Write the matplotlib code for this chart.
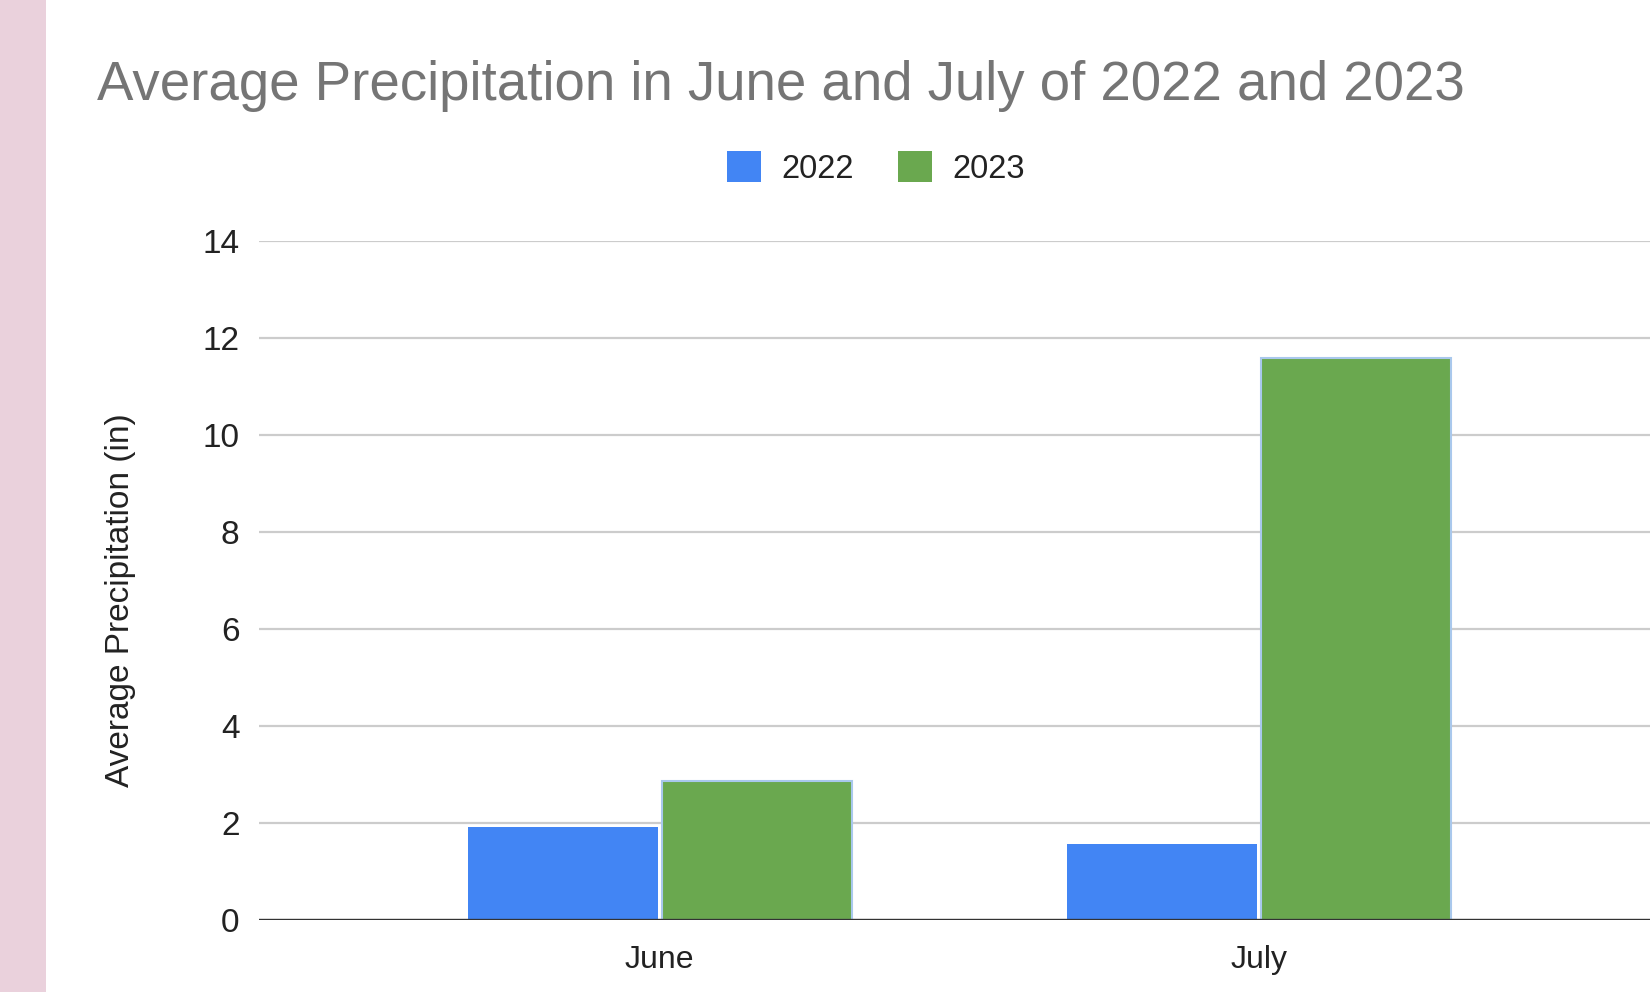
import matplotlib
matplotlib.use("Agg")
import matplotlib.pyplot as plt
from matplotlib.patches import Rectangle, Patch
import numpy as np

months = ["June", "July"]
precip_2022 = [1.92, 1.57]
precip_2023 = [2.87, 11.59]
series_labels = ["2022", "2023"]
yticks = [0, 2, 4, 6, 8, 10, 12, 14]

plt.rcParams['font.family'] = ['Liberation Sans', 'DejaVu Sans']

W, H = 1650, 992
fig = plt.figure(figsize=(W / 100, H / 100), dpi=100)
fig.patch.set_facecolor('white')

# pink strip on left
fig.add_artist(Rectangle((0, 0), 46 / W, 1, transform=fig.transFigure,
                         facecolor='#ead1dc', edgecolor='none', zorder=0))

left, right = 259 / W, 1.0
bottom, top = 1 - 920 / H, 1 - 241 / H
ax = fig.add_axes([left, bottom, right - left, top - bottom])

x = np.arange(len(months))
bw = 0.317
off = 0.162
c22, c23 = '#4285f4', '#6aa84f'
ax.bar(x - off, precip_2022, width=bw, color=c22, edgecolor='none', zorder=3)
ax.bar(x + off, precip_2023, width=bw, color=c23, edgecolor='#a9c8ec',
       linewidth=1.5, zorder=3)

ax.set_xlim(-0.669, 1.653)
ax.set_ylim(0, 14)
ax.set_yticks(yticks)
ax.set_yticklabels([str(v) for v in yticks])
ax.set_xticks(x)
ax.set_xticklabels(months)
ax.tick_params(axis='y', length=0, pad=14, labelsize=24, labelcolor='#222222')
ax.tick_params(axis='x', length=0, pad=18, labelsize=23, labelcolor='#222222')

for s in ax.spines.values():
    s.set_visible(False)
ax.grid(axis='y', color='#cccccc', linewidth=1.6, zorder=1)
ax.grid(axis='x', visible=False)
ax.axhline(0, color='#333333', linewidth=2.4, zorder=4)

fig.text(97 / W, 1 - 100 / H, "Average Precipitation in June and July of 2022 and 2023",
         ha='left', va='baseline', fontsize=39.3, color='#757575')

fig.text(120 / W, 1 - 600 / H, "Average Precipitation (in)", rotation=90,
         ha='center', va='center', fontsize=24, color='#222222')

handles = [Patch(facecolor=c22, edgecolor='none'), Patch(facecolor=c23, edgecolor='none')]
fig.legend(handles, series_labels, loc='center', bbox_to_anchor=(0.531, 1 - 168 / H),
           ncol=2, frameon=False, fontsize=23.5, handlelength=1.05, handleheight=1.05,
           handletextpad=0.62, columnspacing=1.35, borderpad=0, labelcolor='#222222')

fig.savefig("out.png", dpi=100, facecolor='white')
